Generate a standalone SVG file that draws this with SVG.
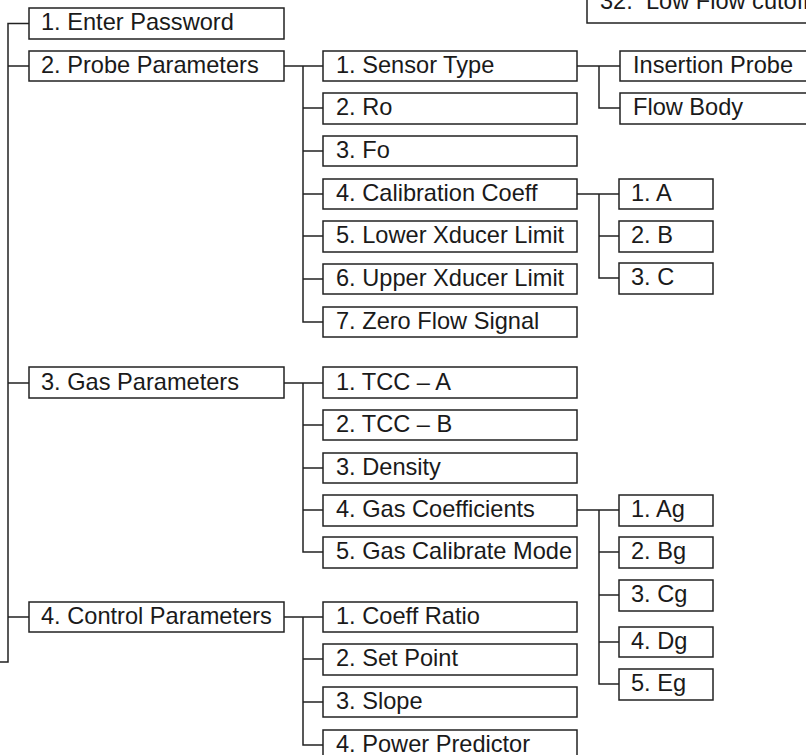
<svg xmlns="http://www.w3.org/2000/svg" width="806" height="755" viewBox="0 0 806 755">
<style>
.b{fill:#fff;stroke:#222;stroke-width:1.5}
.t{font-family:"Liberation Sans",Arial,Helvetica,sans-serif;font-size:23.6px;fill:#1a1a1a;white-space:pre}
.c{fill:none;stroke:#222;stroke-width:1.5}
</style>
<rect width="806" height="755" fill="#fff"/>
<g id="connectors" class="c">
<path d="M0 662H8V23.5H29M8 66H29M8 383H29M8 617H29"/>
<path d="M284 66H323M303 66V322H323M303 108H323M303 151H323M303 194H323M303 236H323M303 279H323"/>
<path d="M577 66H620M599 66V108H620"/>
<path d="M577 194H619M599 194V278H619M599 236H619"/>
<path d="M284 383H323M303 383V552H323M303 425H323M303 468H323M303 510H323"/>
<path d="M577 510H619M599 510V684H619M599 552H619M599 595H619M599 642H619"/>
<path d="M284 617H323M303 617V745H323M303 659H323M303 702H323"/>
</g>
<g id="n_lowflow"><rect class="b" x="587" y="-10" width="230" height="33"/><text class="t" x="600" y="9">32.  Low Flow cutoff</text></g>
<g id="n1"><rect class="b" x="29" y="8" width="255" height="31"/><text class="t" x="41" y="29.5">1. Enter Password</text></g>
<g id="n2"><rect class="b" x="29" y="51" width="255" height="30"/><text class="t" x="41" y="72.5">2. Probe Parameters</text></g>
<g id="n3"><rect class="b" x="29" y="367" width="255" height="31"/><text class="t" x="41" y="389.5">3. Gas Parameters</text></g>
<g id="n4"><rect class="b" x="29" y="602" width="255" height="30"/><text class="t" x="41" y="623.5">4. Control Parameters</text></g>
<g id="n2_1"><rect class="b" x="323" y="51" width="254" height="30"/><text class="t" x="336" y="72.5">1. Sensor Type</text></g>
<g id="n2_2"><rect class="b" x="323" y="93" width="254" height="31"/><text class="t" x="336" y="114.5">2. Ro</text></g>
<g id="n2_3"><rect class="b" x="323" y="136" width="254" height="30"/><text class="t" x="336" y="157.5">3. Fo</text></g>
<g id="n2_4"><rect class="b" x="323" y="179" width="254" height="30"/><text class="t" x="336" y="200.5">4. Calibration Coeff</text></g>
<g id="n2_5"><rect class="b" x="323" y="221" width="254" height="31"/><text class="t" x="336" y="242.5">5. Lower Xducer Limit</text></g>
<g id="n2_6"><rect class="b" x="323" y="264" width="254" height="30"/><text class="t" x="336" y="285.5">6. Upper Xducer Limit</text></g>
<g id="n2_7"><rect class="b" x="323" y="307" width="254" height="30"/><text class="t" x="336" y="328.5">7. Zero Flow Signal</text></g>
<g id="n2_1_1"><rect class="b" x="620" y="51" width="200" height="30"/><text class="t" x="633" y="72.5">Insertion Probe</text></g>
<g id="n2_1_2"><rect class="b" x="620" y="93" width="200" height="31"/><text class="t" x="633" y="114.5">Flow Body</text></g>
<g id="n2_4_1"><rect class="b" x="619" y="179" width="94" height="30"/><text class="t" x="631" y="200.5">1. A</text></g>
<g id="n2_4_2"><rect class="b" x="619" y="221" width="94" height="31"/><text class="t" x="631" y="242.5">2. B</text></g>
<g id="n2_4_3"><rect class="b" x="619" y="263" width="94" height="31"/><text class="t" x="631" y="284.5">3. C</text></g>
<g id="n3_1"><rect class="b" x="323" y="367" width="254" height="31"/><text class="t" x="336" y="389.5">1. TCC – A</text></g>
<g id="n3_2"><rect class="b" x="323" y="410" width="254" height="30"/><text class="t" x="336" y="431.5">2. TCC – B</text></g>
<g id="n3_3"><rect class="b" x="323" y="453" width="254" height="30"/><text class="t" x="336" y="474.5">3. Density</text></g>
<g id="n3_4"><rect class="b" x="323" y="495" width="254" height="31"/><text class="t" x="336" y="516.5">4. Gas Coefficients</text></g>
<g id="n3_5"><rect class="b" x="323" y="537" width="254" height="31"/><text class="t" x="336" y="558.5">5. Gas Calibrate Mode</text></g>
<g id="n3_4_1"><rect class="b" x="619" y="495" width="94" height="31"/><text class="t" x="631" y="516.5">1. Ag</text></g>
<g id="n3_4_2"><rect class="b" x="619" y="537" width="94" height="31"/><text class="t" x="631" y="558.5">2. Bg</text></g>
<g id="n3_4_3"><rect class="b" x="619" y="580" width="94" height="31"/><text class="t" x="631" y="601.5">3. Cg</text></g>
<g id="n3_4_4"><rect class="b" x="619" y="627" width="94" height="30"/><text class="t" x="631" y="648.5">4. Dg</text></g>
<g id="n3_4_5"><rect class="b" x="619" y="669" width="94" height="31"/><text class="t" x="631" y="690.5">5. Eg</text></g>
<g id="n4_1"><rect class="b" x="323" y="602" width="254" height="30"/><text class="t" x="336" y="623.5">1. Coeff Ratio</text></g>
<g id="n4_2"><rect class="b" x="323" y="644" width="254" height="31"/><text class="t" x="336" y="665.5">2. Set Point</text></g>
<g id="n4_3"><rect class="b" x="323" y="687" width="254" height="30"/><text class="t" x="336" y="708.5">3. Slope</text></g>
<g id="n4_4"><rect class="b" x="323" y="730" width="254" height="31"/><text class="t" x="336" y="751.5">4. Power Predictor</text></g>
</svg>
